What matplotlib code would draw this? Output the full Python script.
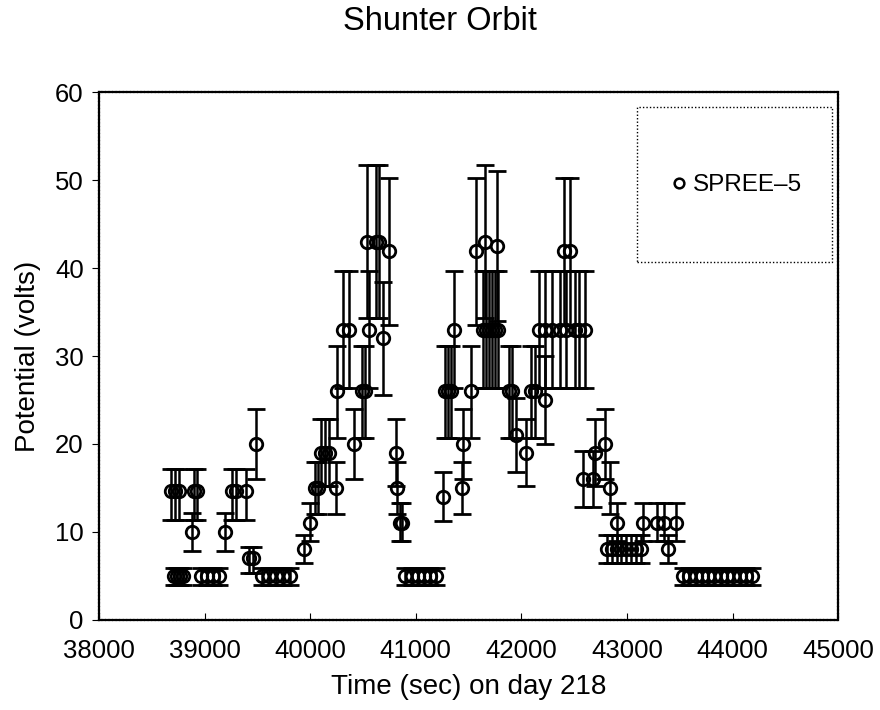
import numpy as np
import matplotlib
matplotlib.use("Agg")
import matplotlib.pyplot as plt
from matplotlib.patches import Rectangle
from matplotlib.lines import Line2D

plt.rcParams['font.family'] = ['Liberation Sans', 'DejaVu Sans']

# time (sec) on day 218 and measured potential (volts)
time_s = [
    38683, 38720, 38758, 38901, 38929, 38882,
    38711, 38739, 38768, 38796, 38967, 39024, 39081, 39138,
    39195, 39261, 39300, 39394, 39422, 39460, 39488,
    39545, 39612, 39678, 39744, 39811,
    39943, 40000, 40048, 40076, 40105, 40142, 40180, 40247, 40256,
    40313, 40370, 40417, 40493, 40521, 40560, 40540, 40626, 40654,
    40692, 40749, 40815, 40818, 40853, 40872,
    40901, 40967, 41024, 41081, 41138, 41195,
    41261, 41280, 41309, 41337, 41365, 41441, 41450, 41527, 41574,
    41659, 41640, 41668, 41697, 41725, 41754, 41782, 41773,
    41887, 41915, 41953, 42048, 42095, 42133,
    42171, 42228, 42294, 42361, 42427, 42503, 42550, 42607, 42219, 42408, 42456,
    42579, 42674, 42693, 42787, 42835, 42901,
    42806, 42854, 42901, 42939, 42986, 43034, 43081, 43128, 43385,
    43148, 43280, 43347, 43460,
    43527, 43584, 43651, 43707, 43764, 43826, 43887, 43944, 44001, 44067, 44124, 44181,
]
potential = [
    14.7, 14.7, 14.7, 14.7, 14.7, 10,
    5, 5, 5, 5, 5, 5, 5, 5,
    10, 14.7, 14.7, 14.7, 7, 7, 20,
    5, 5, 5, 5, 5,
    8, 11, 15, 15, 19, 19, 19, 15, 26,
    33, 33, 20, 26, 26, 33, 43, 43, 43,
    32, 42, 19, 15, 11, 11,
    5, 5, 5, 5, 5, 5,
    14, 26, 26, 26, 33, 15, 20, 26, 42,
    43, 33, 33, 33, 33, 33, 33, 42.5,
    26, 26, 21, 19, 26, 26,
    33, 33, 33, 33, 33, 33, 33, 33, 25, 42, 42,
    16, 16, 19, 20, 15, 11,
    8, 8, 8, 8, 8, 8, 8, 8, 8,
    11, 11, 11, 11,
    5, 5, 5, 5, 5, 5, 5, 5, 5, 5, 5, 5,
]

# error bar ends per potential level
level = [5, 7, 8, 10, 11, 14, 14.7, 15, 16, 19, 20, 21, 25, 26, 32, 33, 42, 42.5, 43]
level_lo = [4.0, 5.3, 6.5, 7.8, 9.0, 11.2, 11.4, 12.0, 12.8, 15.2, 16.0, 16.8, 20.0,
            20.7, 25.6, 26.4, 33.5, 34.0, 34.3]
level_hi = [5.9, 8.3, 9.6, 12.2, 13.3, 16.8, 17.2, 18.0, 19.2, 22.8, 24.0, 25.2, 30.0,
            31.2, 38.4, 39.7, 50.3, 51.0, 51.7]

lo_map = dict(zip(level, level_lo))
hi_map = dict(zip(level, level_hi))
x = np.array(time_s, dtype=float)
y = np.array(potential, dtype=float)
yerr = np.array([[v - lo_map[v] for v in potential],
                 [hi_map[v] - v for v in potential]])

fig = plt.figure(figsize=(8.8, 7.1), dpi=100)
ax = fig.add_axes([0.1125, 0.127, 0.84, 0.743])

ax.errorbar(x, y, yerr=yerr, fmt='o', color='black', ecolor='black',
            mfc='none', mec='black', ms=9, mew=2.0,
            elinewidth=1.8, capsize=6.5, capthick=2.6)

ax.set_xlim(38000, 45000)
ax.set_ylim(0, 60)
ax.set_xticks(np.arange(38000, 45001, 1000))
ax.set_yticks(np.arange(0, 61, 10))
ax.tick_params(axis='x', direction='in', length=5, labelsize=18.5, pad=14)
ax.tick_params(axis='y', direction='out', length=5, labelsize=18.5, pad=6)
ax.tick_params(top=False, right=False)
for sp in ax.spines.values():
    sp.set_linewidth(1.6)
    sp.set_linestyle((0, (1, 0.6)))

ax.set_xlabel('Time (sec) on day 218', fontsize=20, labelpad=8)
ax.set_ylabel('Potential (volts)', fontsize=20, labelpad=10)
fig.text(0.5, 1 - 30 / 710, 'Shunter Orbit', ha='center', va='baseline', fontsize=23.5)

# legend box
ax.add_patch(Rectangle((0.728, 0.678), 0.264, 0.295, transform=ax.transAxes,
                       fill=False, ec='black', lw=1.0, ls=(0, (1, 1.5))))
handle = Line2D([], [], ls='none', marker='o', ms=7, mfc='none', mec='black', mew=1.8)
ax.legend([handle], ['SPREE\u20135'], loc='center left', bbox_to_anchor=(0.735, 0.824),
          frameon=False, fontsize=17.5, handletextpad=0.0, handlelength=1.2)

fig.savefig('out.png', dpi=100)
